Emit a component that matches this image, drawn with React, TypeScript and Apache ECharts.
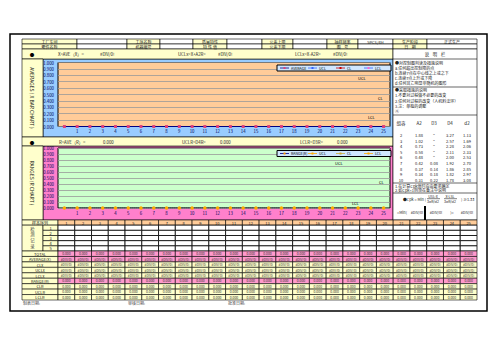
import React, { useEffect, useRef } from "react";
import * as echarts from "echarts";

// ---------- data ----------
const chartCategories = ["", "1", "2", "3", "4", "5", "6", "7", "8", "9", "10", "11", "12", "13", "14", "15", "16", "17", "18", "19", "20", "21", "22", "23", "24", "25"];
const averageValues = [0, 0, 0, 0, 0, 0, 0, 0, 0, 0, 0, 0, 0, 0, 0, 0, 0, 0, 0, 0, 0, 0, 0, 0, 0, 0];
const rangeValues = [0, 0, 0, 0, 0, 0, 0, 0, 0, 0, 0, 0, 0, 0, 0, 0, 0, 0, 0, 0, 0, 0, 0, 0, 0, 0];

const headerRow1 = ["工厂车间", "", "工序名称", "", "质量特性", "", "公差上限", "", "抽样频率", "5PCS/4H", "生产阶段", "正式生产"];
const headerRow2 = ["零件名称", "", "机器编号", "", "特 性 值", "", "公差下限", "", "图    号", "", "日    期", ""];

const xbarHeader = ["X=AVE（X）=", "#DIV/0!", "UCLx=X+A2R=", "#DIV/0!", "LCLx=X-A2R=", "#DIV/0!"];
const rangeHeader = ["R=AVE（R）=", "0.000", "UCLR=D4R=", "0.000", "LCLR=D3R=", "0.000"];

const noteLines1 = ["●对控制图判读及措施说明", "a.任何超出控制限的点", "b.连续7点在中心线之上或之下", "c.连续7点上升或下降", "d.任何其它明显非随机的图形"];
const noteLines2 = ["●采取措施的说明", "1.不要对过程做不必要的改变", "2.任何对过程的改变（人机料法环）", "3.注：单独的调整", "④"];
const constHead = ["组容", "A2", "D3", "D4", "d2"];
const constN = ["2", "3", "4", "5", "6", "7", "8", "9", "10"];
const constA2 = ["1.88", "1.02", "0.73", "0.58", "0.48", "0.42", "0.37", "0.34", "0.31"];
const constD3 = ["*", "*", "*", "*", "*", "0.08", "0.14", "0.18", "0.22"];
const constD4 = ["3.27", "2.57", "2.28", "2.11", "2.00", "1.92", "1.86", "1.82", "1.78"];
const constd2 = ["1.13", "1.69", "2.06", "2.33", "2.53", "2.70", "2.85", "2.97", "3.08"];
const noteLines3 = ["1.在计算Cpk值时应由要求确定", "2.如Cpk<1则须在备注中说明"];

const sampleNumbers = ["1", "2", "3", "4", "5", "6", "7", "8", "9", "10", "11", "12", "13", "14", "15", "16", "17", "18", "19", "20", "21", "22", "23", "24", "25"];
const recordRows = ["1", "2", "3", "4", "5"];
const summaryLabels = ["TOTAL", "AVERAGE(X)", "CLx", "UCLx", "LCLx", "RANGE(R)", "CLR", "UCLR", "LCLR"];
const summaryValues = ["0.000", "#DIV/0!", "#DIV/0!", "#DIV/0!", "#DIV/0!", "0.000", "0.000", "0.000", "0.000"];
const footerLabels = ["制表日期:", "审核日期:", "批准日期:"];

// ---------- helpers ----------
const FONT = "'Noto Sans CJK SC', 'Noto Sans', sans-serif";
const YEL = "#ffffcc";
const PINK = "#ff99cc";

function rect(x: number, y: number, w: number, h: number, fill: string, stroke?: string, lw = 0.6, z = 1) {
  return {
    type: "rect",
    z,
    silent: true,
    shape: { x, y, width: w, height: h },
    style: { fill, stroke: stroke || null, lineWidth: stroke ? lw : 0 },
  };
}
function text(x: number, y: number, s: string, size = 4.5, align = "left", color = "#222", extra: any = {}) {
  return {
    type: "text",
    z: 100,
    silent: true,
    x,
    y,
    ...extra,
    style: {
      text: s,
      fontSize: size,
      fontFamily: FONT,
      fill: color,
      textAlign: align,
      textVerticalAlign: "middle",
    },
  };
}
function line(x1: number, y1: number, x2: number, y2: number, lw = 0.6, color = "#000", z = 60) {
  return { type: "line", z, silent: true, shape: { x1, y1, x2, y2 }, style: { stroke: color, lineWidth: lw } };
}

function buildGraphics() {
  const g: any[] = [];
  // header table
  const hx = [22, 77, 127, 160, 193, 227, 262, 293, 327, 358, 393, 427, 477];
  [headerRow1, headerRow2].forEach((row, r) => {
    const y = 39 + r * 5;
    row.forEach((s, i) => {
      const isLabel = i % 2 === 0;
      g.push(rect(hx[i], y, hx[i + 1] - hx[i], 5, isLabel ? YEL : "#fff", "#000", 0.6, 1));
      if (s) g.push(text((hx[i] + hx[i + 1]) / 2, y + 2.6, s, 4, "center"));
    });
  });

  // xbar section
  g.push(rect(22, 49, 371, 10, YEL, "#000", 0.6, 1));
  g.push(text(32, 54, "●", 4.5, "center", "#000"));
  const hxPos = [58, 100, 178, 218, 295, 333];
  xbarHeader.forEach((s, i) => g.push(text(hxPos[i], 54, s, 4.3, "left")));
  g.push(rect(22, 59, 21, 78, YEL, "#000", 0.6, 1));
  g.push(rect(43, 59, 350, 78, "#99ccff", "#000", 0.6, -5));
  g.push(text(32, 98, "AVERAGES ( X BAR CHART )", 5, "center", "#111", { rotation: -Math.PI / 2 }));

  // range section
  g.push(rect(22, 137, 371, 9, YEL, "#000", 0.6, 1));
  g.push(text(32, 141.5, "●", 4.5, "center", "#000"));
  const rxPos = [59, 103, 182, 220, 300, 337];
  rangeHeader.forEach((s, i) => g.push(text(rxPos[i], 141.5, s, 4.3, "left")));
  g.push(rect(22, 146, 21, 74, YEL, "#000", 0.6, 1));
  g.push(rect(43, 146, 350, 74, "#ff80cc", "#000", 0.6, -5));
  g.push(text(32, 183, "RANGES (R CHART )", 5, "center", "#111", { rotation: -Math.PI / 2 }));

  // in-chart labels
  g.push(text(358, 78, "UCL", 4, "left", "#000"));
  g.push(text(378, 98, "CL", 4, "left", "#000"));
  g.push(text(368, 117, "LCL", 4, "left", "#000"));
  g.push(text(335, 163, "UCL", 4, "left", "#000"));
  g.push(text(379, 182, "CL", 4, "left", "#000"));
  g.push(text(352, 203, "LCL", 4, "left", "#000"));

  // legends
  const legend = (y: number, items: { label: string; color: string; mk: string }[]) => {
    g.push(rect(277, y, 114, 6, "#cfe6ff", "#000", 1, 90));
    items.forEach((it, i) => {
      const x = 280 + i * 28;
      g.push(line(x, y + 3, x + 9, y + 3, 0.8, it.color, 95));
      g.push(rect(x + 3.5, y + 2, 2, 2, it.mk, undefined, 0, 96));
      g.push(text(x + 11, y + 3, it.label, 3.6, "left", "#000"));
    });
  };
  legend(65, [
    { label: "AVERAGE", color: "#000080", mk: "#e0407a" },
    { label: "UCL", color: "#3366ff", mk: "#3366ff" },
    { label: "CL", color: "#cc0000", mk: "#cc0000" },
    { label: "LCL", color: "#3366ff", mk: "#ff66cc" },
  ]);
  legend(150.5, [
    { label: "RANGE(R)", color: "#000080", mk: "#ff9900" },
    { label: "UCL", color: "#ffaa00", mk: "#ffaa00" },
    { label: "CL", color: "#ccaa33", mk: "#ccaa33" },
    { label: "LCL", color: "#ffaa00", mk: "#ffaa00" },
  ]);

  // right panel
  g.push(rect(393, 49, 84, 171, "#fff", "#000", 0.6, 1));
  g.push(line(393, 59, 477, 59));
  g.push(text(435, 54, "说    明    栏", 4.3, "center"));
  noteLines1.forEach((s, i) => g.push(text(395, 62.5 + i * 5.2, s, 4, "left")));
  g.push(line(393, 87, 477, 87));
  noteLines2.forEach((s, i) => g.push(text(395, 90 + i * 5.3, s, 4, "left")));
  g.push(line(393, 115, 477, 115));
  const cx = [401, 419, 434, 450, 467];
  constHead.forEach((s, i) => g.push(text(cx[i], 123, s, 4.5, "center")));
  constN.forEach((n, r) => {
    const y = 135 + r * 5.6;
    [n, constA2[r], constD3[r], constD4[r], constd2[r]].forEach((s, i) =>
      g.push(text(cx[i], y, s === "*" ? "\u2033" : s, 4, "center"))
    );
  });
  g.push(line(393, 183, 477, 183));
  noteLines3.forEach((s, i) => g.push(text(395, 185.5 + i * 4.5, s, 4, "left")));
  g.push(line(393, 193, 477, 193));
  g.push(text(403, 199, "●Cpk = Min (", 3.8, "left"));
  g.push(text(433, 196, "USL-X", 3.6, "center"));
  g.push(line(427, 198.7, 440, 198.7, 0.5));
  g.push(text(433, 201.5, "3σR/d2", 3.6, "center"));
  g.push(text(450, 196, "X-LSL", 3.6, "center"));
  g.push(line(444, 198.7, 457, 198.7, 0.5));
  g.push(text(450, 201.5, "3σR/d2", 3.6, "center"));
  g.push(text(461, 199, ") ≥1.33", 3.8, "left"));
  g.push(text(402, 212, "=Min(", 3.8, "center"));
  g.push(text(417, 212, "#DIV/0!", 3.8, "center"));
  g.push(text(436, 212, "#DIV/0!", 3.8, "center"));
  g.push(text(452, 212, ")=", 3.8, "center"));
  g.push(text(467, 212, "#DIV/0!", 3.8, "center"));
  g.push(rect(424, 206, 2, 14, "#000", undefined, 0, 70));

  // bottom table
  const colW = (477 - 58) / 25;
  const top = 220;
  const hr = 5.17;
  g.push(rect(22, top, 36, hr, YEL, "#000", 0.6, 1));
  g.push(text(40, top + hr / 2, "样本序列", 4, "center"));
  sampleNumbers.forEach((s, i) => {
    g.push(rect(58 + i * colW, top, colW, hr, "#ffcc99", "#000", 0.6, 1));
    g.push(text(58 + (i + 0.5) * colW, top + hr / 2, s, 4, "center"));
  });
  g.push(rect(22, top + hr, 21, hr * 5, YEL, "#000", 0.6, 1));
  ["检", "测", "记", "录"].forEach((c, i) => g.push(text(32.5, top + hr + 3.5 + i * 5.8, c, 4.3, "center", "#444")));
  recordRows.forEach((s, r) => {
    const y = top + hr * (r + 1);
    g.push(rect(43, y, 15, hr, YEL, "#000", 0.6, 1));
    g.push(text(50.5, y + hr / 2, s, 4, "center"));
    sampleNumbers.forEach((_, i) => g.push(rect(58 + i * colW, y, colW, hr, "#fff", "#000", 0.8, 1)));
  });
  const sTop = top + hr * 6;
  const sh = (300 - sTop) / 9;
  summaryLabels.forEach((lab, r) => {
    const y = sTop + r * sh;
    const isPink = r === 0 || r === 1 || r === 5;
    g.push(rect(22, y, 36, sh, YEL, "#000", 0.6, 1));
    g.push(text(40, y + sh / 2, lab, 4, "center"));
    sampleNumbers.forEach((_, i) => {
      g.push(rect(58 + i * colW, y, colW, sh, isPink ? PINK : YEL, "#000", 0.6, 1));
      g.push(text(58 + (i + 0.5) * colW, y + sh / 2, summaryValues[r], 3.4, "center", "#333"));
    });
  });
  const fx = [23, 128, 228];
  footerLabels.forEach((s, i) => g.push(text(fx[i], 303, s, 4, "left", "#444")));

  g.push(rect(10, 34, 477, 277, "none", "#000", 1.5, 200));
  return g;
}

export default function App() {
  const ref = useRef<HTMLDivElement>(null);
  useEffect(() => {
    if (!ref.current) return;
    const chart = echarts.init(ref.current, undefined, { renderer: "svg" });
    const yAxisCommon = (gi: number) => ({
      type: "value",
      gridIndex: gi,
      min: 0,
      max: 1,
      interval: 0.1,
      axisLine: { show: false },
      axisTick: { show: false },
      axisLabel: { fontSize: 4.3, color: "#000055", margin: 4, formatter: (v: number) => v.toFixed(3), fontFamily: FONT },
      splitLine: { show: true, lineStyle: { color: "#999999", width: 0.8 } },
    });
    const xAxisCommon = (gi: number) => ({
      type: "category",
      gridIndex: gi,
      data: chartCategories,
      boundaryGap: true,
      axisLine: { show: false },
      axisTick: { show: false },
      axisLabel: { fontSize: 4.3, color: "#000055", margin: 2.5, interval: 0, fontFamily: FONT },
      splitLine: { show: false },
    });
    chart.setOption({
      animation: false,
      backgroundColor: "#ffffff",
      grid: [
        { left: 58, top: 62.5, width: 332, height: 64, show: true, backgroundColor: "#ffcc99", borderColor: "#000", borderWidth: 1 },
        { left: 58, top: 148, width: 332, height: 60, show: true, backgroundColor: "#ccffcc", borderColor: "#000", borderWidth: 1 },
      ],
      xAxis: [xAxisCommon(0), xAxisCommon(1)],
      yAxis: [yAxisCommon(0), yAxisCommon(1)],
      series: [
        {
          name: "AVERAGE",
          type: "line",
          xAxisIndex: 0,
          yAxisIndex: 0,
          data: averageValues,
          symbol: "rect",
          symbolSize: 3,
          itemStyle: { color: "#e0407a" },
          lineStyle: { color: "#000080", width: 1.2 },
          z: 5,
        },
        {
          name: "RANGE(R)",
          type: "line",
          xAxisIndex: 1,
          yAxisIndex: 1,
          data: rangeValues,
          symbol: "circle",
          symbolSize: 3.5,
          itemStyle: { color: "#ffaa00" },
          lineStyle: { color: "#000033", width: 1, type: "dotted" },
          z: 5,
        },
      ],
      graphic: { elements: buildGraphics() },
    });
    return () => chart.dispose();
  }, []);
  return <div ref={ref} style={{ position: "fixed", left: 0, top: 0, width: 503, height: 356 }} />;
}
